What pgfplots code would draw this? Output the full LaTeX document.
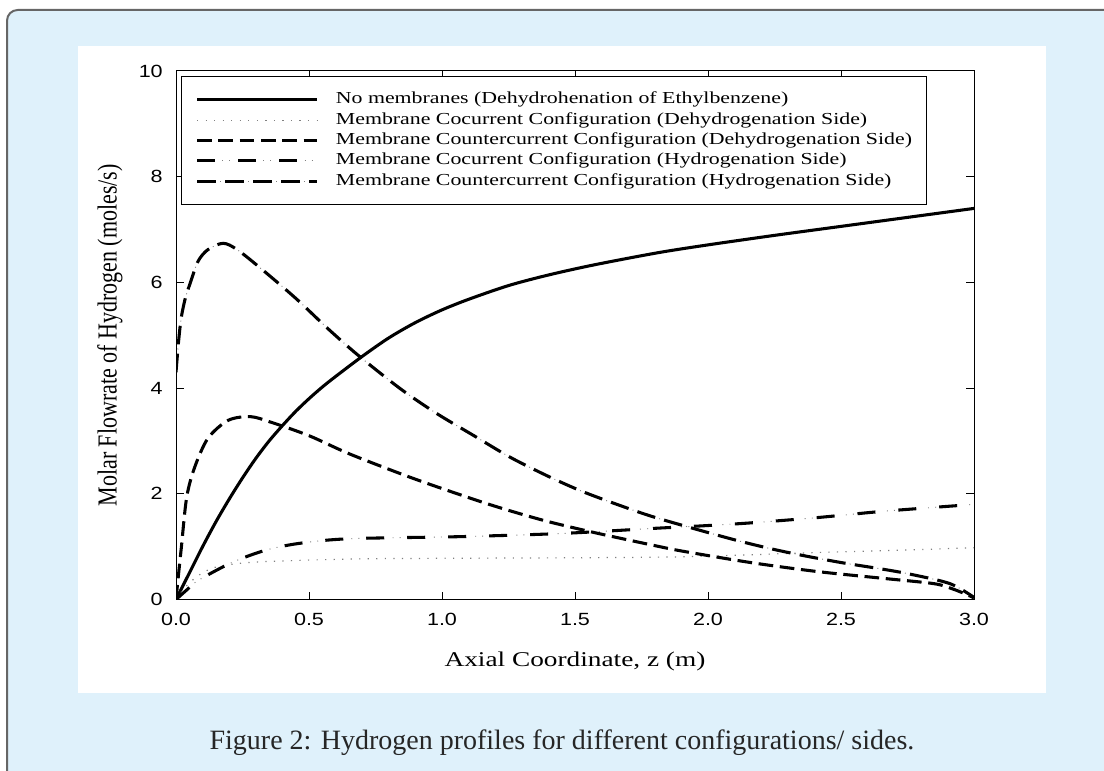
\documentclass[border=0pt]{standalone}
\usepackage{fontspec}
\usepackage{graphicx}
\usepackage{pgfplots}
\pgfplotsset{compat=1.18}
\setmainfont{Liberation Serif}
% the chart image is stretched sideways, so its fonts are too
\newfontfamily\chartserif{Liberation Serif}[FakeStretch=1.3]
\newfontfamily\chartsans{Liberation Sans}[FakeStretch=1.22]
\definecolor{pagebg}{HTML}{DFF1FB}
\definecolor{framegray}{HTML}{666666}

\begin{document}
\begin{tikzpicture}
% 1 px of the reference = 0.75pt
\path[use as bounding box] (0,0) rectangle (828pt,578.25pt);
\begin{scope}
  \clip (0,0) rectangle (828pt,578.25pt);
  \draw[rounded corners=8pt, fill=pagebg, draw=framegray, line width=1.5pt]
    (5.25pt,570.75pt) rectangle (860pt,-20pt);
\end{scope}
\fill[white] (58.5pt,58.5pt) rectangle (784.5pt,543.75pt);
\node[anchor=base, font=\fontsize{21}{25}\selectfont, text=black!85]
  at (421.5pt,15.75pt) {Figure 2: Hydrogen profiles for different configurations/ sides.};

\begin{axis}[
  at={(132pt,128.6pt)}, anchor=south west,
  width=598.5pt, height=396.4pt, scale only axis,
  xmin=0, xmax=3, ymin=0, ymax=10,
  xtick={0,0.5,...,3}, ytick={0,2,...,10},
  axis line style={line width=0.75pt},
  every tick/.style={black, line width=0.75pt},
  major tick length=6pt,
  /pgf/number format/assume math mode=true,
  ticklabel style={font=\chartsans\fontsize{13.25}{15}\selectfont, inner sep=0pt},
  x tick label style={yshift=-10pt, /pgf/number format/.cd, fixed, fixed zerofill, precision=1, /tikz/.cd},
  y tick label style={xshift=-9.75pt},
  xlabel={Axial Coordinate, z (m)},
  xlabel style={font=\chartserif\fontsize{15.75}{18}\selectfont,
    at={(axis description cs:0.5,-0.126)}, anchor=base},
  ylabel={\scalebox{1}[1.25]{Molar Flowrate of Hydrogen (moles/s)}},
  ylabel style={font=\fontsize{16.5}{19}\selectfont,
    at={(axis description cs:-0.0827,0.5)}, anchor=center},
  legend cell align=left,
  legend image code/.code={\draw[#1] (0pt,0pt) -- (90pt,0pt);},
  legend style={at={(0,1)}, anchor=north west, xshift=3.75pt, yshift=-3.75pt,
    draw=black, line width=0.75pt, inner xsep=10.5pt, inner ysep=11.5pt,
    row sep=3.25pt, column sep=13pt, font=\chartserif\fontsize{12.6}{15}\selectfont,
    nodes={inner sep=0pt, text height=9pt, text depth=3pt, anchor=west}},
]

\addplot[black, line width=2.3pt, smooth] coordinates {
  (0,0) (0.05,0.5) (0.1,1.0) (0.15,1.47) (0.2,1.9) (0.25,2.3)
  (0.3,2.67) (0.35,3.0) (0.4,3.29) (0.45,3.56) (0.5,3.8) (0.55,4.02)
  (0.6,4.22) (0.7,4.6) (0.8,4.95) (0.9,5.24) (1.0,5.48) (1.1,5.68)
  (1.25,5.94) (1.4,6.14) (1.57,6.33) (1.81,6.56) (2.0,6.71)
  (2.25,6.89) (2.5,7.06) (2.75,7.23) (3.0,7.40)};
\addlegendentry{No membranes (Dehydrohenation of Ethylbenzene)}

\addplot[gray, line width=0.9pt, dash pattern=on 0.9pt off 5.5pt, smooth] coordinates {
  (0,0) (0.034,0.23) (0.083,0.45) (0.147,0.61) (0.27,0.70) (0.46,0.74)
  (0.70,0.77) (1.0,0.78) (1.5,0.79) (1.78,0.80) (2.0,0.82) (2.41,0.89)
  (2.7,0.93) (3.0,0.98)};
\addlegendentry{Membrane Cocurrent Configuration (Dehydrogenation Side)}

\addplot[black, line width=2.3pt, dash pattern=on 11pt off 5pt, smooth] coordinates {
  (0,0) (0.01,0.5) (0.02,0.98) (0.04,1.93) (0.07,2.5) (0.12,3.05)
  (0.196,3.39) (0.28,3.46) (0.36,3.35) (0.50,3.1) (0.65,2.76)
  (0.855,2.36) (1.0,2.1) (1.19,1.78) (1.38,1.5) (1.57,1.27)
  (1.80,1.02) (1.91,0.91) (2.16,0.70) (2.41,0.53) (2.66,0.40)
  (2.85,0.30) (2.92,0.2) (2.97,0.1) (3.0,0.03)};
\addlegendentry{Membrane Countercurrent Configuration (Dehydrogenation Side)}

\addplot[black, line width=2.3pt, dash pattern=on 13.5pt off 17.25pt,
  postaction={draw, gray, line width=0.7pt,
    dash pattern=on 0pt off 18.75pt on 0.7pt off 4.65pt on 0.7pt off 6.15pt},
  smooth] coordinates {
  (0,0) (0.04,0.18) (0.083,0.36) (0.21,0.70) (0.335,0.93) (0.46,1.06)
  (0.65,1.15) (1.07,1.19) (1.45,1.25) (1.81,1.35) (2.0,1.40)
  (2.16,1.45) (2.41,1.55) (2.66,1.67) (3.0,1.80)};
\addlegendentry{Membrane Cocurrent Configuration (Hydrogenation Side)}

\addplot[black, line width=2.3pt, dash pattern=on 14pt off 7pt,
  postaction={draw, gray, line width=0.7pt,
    dash pattern=on 0pt off 17.15pt on 0.7pt off 3.15pt},
  smooth] coordinates {
  (0,4.3) (0.01,4.9) (0.02,5.34) (0.035,5.7) (0.053,5.98) (0.083,6.4)
  (0.12,6.62) (0.177,6.74) (0.23,6.62) (0.32,6.26) (0.45,5.7)
  (0.57,5.13) (0.685,4.62) (0.843,3.99) (0.98,3.52) (1.12,3.1)
  (1.257,2.69) (1.40,2.33) (1.53,2.04) (1.68,1.76) (1.81,1.54)
  (2.07,1.17) (2.22,0.98) (2.35,0.84) (2.5,0.70) (2.65,0.58)
  (2.76,0.48) (2.91,0.30) (3.0,0.04)};
\addlegendentry{Membrane Countercurrent Configuration (Hydrogenation Side)}

\end{axis}
\end{tikzpicture}
\end{document}
